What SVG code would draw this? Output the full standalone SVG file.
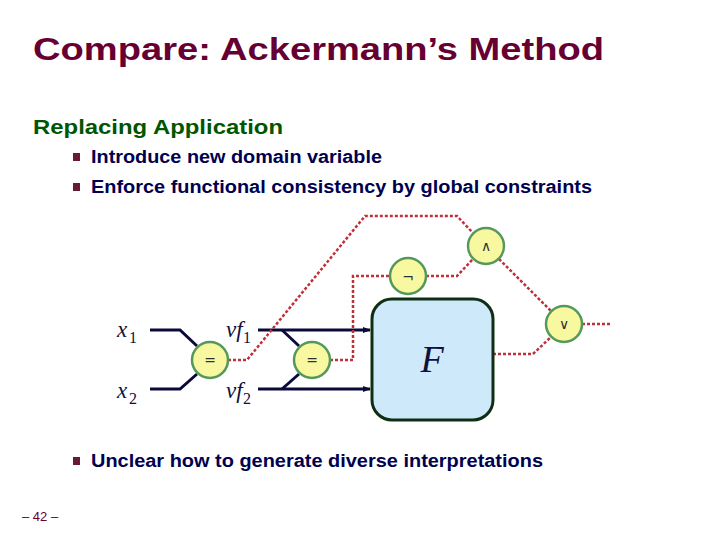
<svg xmlns="http://www.w3.org/2000/svg" width="720" height="540" viewBox="0 0 720 540">
<style>
.title{font-family:"Liberation Sans",Arial,sans-serif;font-weight:bold;fill:#660033}
.sub{font-family:"Liberation Sans",Arial,sans-serif;font-weight:bold;fill:#005500}
.bul{font-family:"Liberation Sans",Arial,sans-serif;font-weight:bold;font-size:18px;fill:#000050}
.sq{fill:#6b1a35}
.math{font-family:"Liberation Serif","Times New Roman",serif;font-style:italic;fill:#101040}
.num{font-family:"Liberation Serif","Times New Roman",serif;fill:#101040}
.wire{fill:none;stroke:#0a0a3a;stroke-width:3}
.dash{fill:none;stroke:#c0303a;stroke-width:2.5;stroke-dasharray:3 2}
.gate{fill:#f8f8a0;stroke:#55995a;stroke-width:2.5}
.op{font-family:"DejaVu Sans",sans-serif;font-size:14px;fill:#303030;text-anchor:middle}
</style>
<defs>
<marker id="arr" markerWidth="8" markerHeight="8" refX="7" refY="4" orient="auto" markerUnits="userSpaceOnUse">
<path d="M0,1 L8,4 L0,7 Z" fill="#0a0a3a"/>
</marker>
</defs>
<rect width="720" height="540" fill="#ffffff"/>
<text class="title" x="33" y="60" font-size="32" textLength="571" lengthAdjust="spacingAndGlyphs">Compare: Ackermann’s Method</text>
<text class="sub" x="33" y="134" font-size="21" textLength="250" lengthAdjust="spacingAndGlyphs">Replacing Application</text>
<rect class="sq" x="73" y="153" width="7" height="8"/>
<text class="bul" x="91" y="163" textLength="291" lengthAdjust="spacingAndGlyphs">Introduce new domain variable</text>
<rect class="sq" x="73" y="183" width="7" height="8"/>
<text class="bul" x="91" y="193" textLength="501" lengthAdjust="spacingAndGlyphs">Enforce functional consistency by global constraints</text>
<rect class="sq" x="73" y="457" width="7" height="8"/>
<text class="bul" x="91" y="467" textLength="452" lengthAdjust="spacingAndGlyphs">Unclear how to generate diverse interpretations</text>
<text x="22" y="521" font-family="Liberation Sans,Arial,sans-serif" font-size="13" fill="#660033">– 42 –</text>

<g id="connectors">
<path class="wire" d="M150,330 H180 L197,346"/>
<path class="wire" d="M150,389 H180 L197,374"/>
<path class="wire" d="M258,330 H370" marker-end="url(#arr)"/>
<path class="wire" d="M258,389 H370" marker-end="url(#arr)"/>
<path class="wire" d="M282,330 L299,346"/>
<path class="wire" d="M282,389 L299,374"/>
<path class="dash" d="M228,360 H247 L365,216 H457 L473,233"/>
<path class="dash" d="M330,360 H353 V276 H390"/>
<path class="dash" d="M426,276 H457 L473,259"/>
<path class="dash" d="M499,259 L551,311"/>
<path class="dash" d="M493,354 H533 L551,337"/>
<path class="dash" d="M582,324 H612"/>
</g>

<g id="label-x1"><text class="math" x="117" y="337" font-size="23">x</text><text class="num" x="129" y="343" font-size="16">1</text></g>
<g id="label-x2"><text class="math" x="117" y="398" font-size="23">x</text><text class="num" x="129" y="404" font-size="16">2</text></g>
<g id="label-vf1"><text class="math" x="226" y="337" font-size="23">vf</text><text class="num" x="243" y="343" font-size="16">1</text></g>
<g id="label-vf2"><text class="math" x="226" y="398" font-size="23">vf</text><text class="num" x="243" y="404" font-size="16">2</text></g>

<g id="eq1"><circle class="gate" cx="210" cy="360" r="18"/><text class="op" x="210" y="365">=</text></g>
<g id="eq2"><circle class="gate" cx="312" cy="360" r="18"/><text class="op" x="312" y="365">=</text></g>
<g id="not"><circle class="gate" cx="408" cy="276" r="18"/><text class="op" x="408" y="282">¬</text></g>
<g id="and"><circle class="gate" cx="486" cy="246" r="18"/><text class="op" x="486" y="251">∧</text></g>
<g id="or"><circle class="gate" cx="564" cy="324" r="18"/><text class="op" x="564" y="329">∨</text></g>
<g id="F"><rect x="372" y="299" width="121" height="121" rx="20" fill="#cde9fa" stroke="#0f2e14" stroke-width="3"/><text class="math" x="432" y="372" font-size="38" text-anchor="middle">F</text></g>
</svg>
